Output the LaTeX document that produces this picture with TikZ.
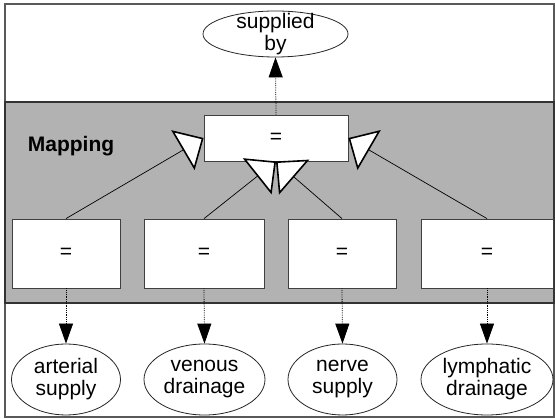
\documentclass[tikz,border=0pt]{standalone}
\usepackage{fontspec}
\setmainfont{Liberation Sans}
\usetikzlibrary{arrows.meta,shapes.geometric}

\begin{document}
\begin{tikzpicture}[x=1pt,y=-1pt,
        eqbox/.style={draw=black!75,fill=white,line width=0.8pt,minimum height=69pt,inner sep=0pt,font=\fontsize{21}{22}\selectfont},
        term/.style={ellipse,draw=black!85,fill=white,line width=0.8pt,inner sep=0pt,minimum height=71pt},
        termtext/.style={align=center,inner sep=0pt,font=\fontsize{21}{22}\selectfont},
        gen/.style={-{Triangle[open,fill=white,length=24pt,width=46pt,line width=1.6pt]},line width=0.7pt},
        link/.style={-{Triangle[length=20pt,width=14pt]},densely dotted,line width=0.8pt}]
        \useasboundingbox(0,0)rectangle(555,419);
        \draw[black!65,line width=1.4pt](5,4)rectangle(554,417);
        \draw[fill=black!30,draw=black!80,line width=1.2pt](5,102)rectangle(554,303);
        \node[font=\bfseries\fontsize{21}{22}\selectfont](maplabel)at(71,146){Mapping};
        % boxes
        \node[eqbox,minimum width=144pt,minimum height=46pt](top)at(276,138){=};
        \node[eqbox,minimum width=108pt](eqa)at(66,253.5){=};
        \node[eqbox,minimum width=120pt](eqv)at(204,253.5){=};
        \node[eqbox,minimum width=108pt](eqn)at(342,253.5){=};
        \node[eqbox,minimum width=132pt](eql)at(487,253.5){=};
        % terms
        \node[term,minimum width=145pt,minimum height=46pt](sup)at(275.5,34){};
        \node[termtext](suptext)at(sup){supplied\\by};
        \node[term,minimum width=109pt](art)at(66,379.5){};
        \node[termtext](arttext)at(art){arterial\\supply};
        \node[term,minimum width=121pt](ven)at(204.5,379.5){};
        \node[termtext](ventext)at(ven){venous\\drainage};
        \node[term,minimum width=109pt](ner)at(342.5,379.5){};
        \node[termtext](nertext)at(ner){nerve\\supply};
        \node[term,minimum width=132pt](lym)at(487,379.5){};
        \node[termtext](lymtext)at(lym){lymphatic\\drainage};
        % links
        \draw[link](top.north)--(sup.south);
        \draw[link](eqa.south)--(art.north);
        \draw[link](eqv.south)--(ven.north);
        \draw[link](eqn.south)--(ner.north);
        \draw[link](eql.south)--(lym.north);
        \draw[gen](eqa.north)--(top.west);
        \draw[gen](eql.north)--(top.east);
        \draw[gen](eqn.north)--(top.south);
        \draw[gen](eqv.north)--(top.south);
    \end{tikzpicture}
\end{document}
